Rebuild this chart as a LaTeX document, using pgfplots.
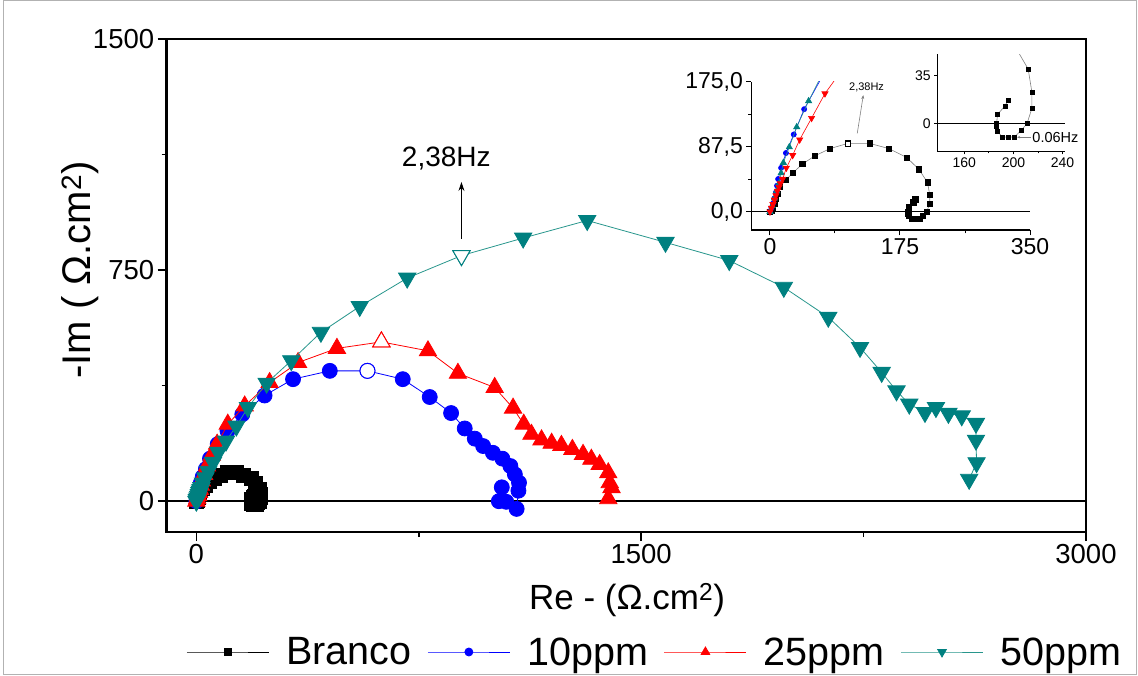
\documentclass[border=0pt]{standalone}
\usepackage{fontspec}
\setmainfont{Liberation Sans}
\usepackage{pgfplots}
\pgfplotsset{compat=1.18}
\usepackage{pgfplotstable}
\usetikzlibrary{arrows.meta}
\definecolor{tealc}{RGB}{0,128,128}
\definecolor{teall}{RGB}{40,150,140}

\pgfplotstableread{
x y
0 0
2 2
4 6
6 11
8 17
10 24
13.5 34
21.5 43
31 52.5
43.5 64
60 75
81 85
105 92
134 92
160 85
184 73
200.5 57
212 39.5
215 23
215 11
211 0
206 -5
201 -9.4
195.5 -9.7
191 -9.4
187 -5.6
186 -2
186.3 0
187 6.7
193 12.8
195.5 16.7
}\branco

\pgfplotstableread{
x y
0 0
2 5
4 11
6 18
8 26
9.5 35
11 44
15 59
21.5 79
32 104
46 138
72 185
105 228
155 282
230 343
326 396
450 423
577 423
696 396
787 338
859 286
905 236
939 203
967 179
1000 157
1032 138
1059 114
1074 87
1088 60
1086 34
1080 -25
1045 -2
1020 0
1030 45
}\ppmten

\pgfplotstableread{
x y
0 0
3 8
6 18
9 28
12 38
15 52
18 66
26 87
36 114
52 149
70 185
106 250
163 309
247 385
343 450
474 496
624 517
781 488
882 415
1006 369
1068 302
1104 250
1130 217
1164 199
1198 188
1231 181
1268 168
1304 152
1332 136
1360 119
1389 92
1394 60
1400 44
1389 8
}\ppmtwentyfive

\pgfplotstableread{
x y
0 0
2 5
4 10
6 16
8 22
10 28
12 33
14 38
17 44
22 59
30.5 76
40 97
56 126
74 159
100 195
135 244
174 304
237 383
320 456
420 548
551 632
711 724
894 797
1102 854
1318 911
1582 840
1797 781
1981 694
2131 597
2238 499
2311 418
2361 358
2404 315
2457 288
2494 304
2536 285
2581 277
2629 253
2629 198
2631 125
2606 71
}\ppmfifty

\begin{document}
\begin{tikzpicture}
\useasboundingbox (0,0) rectangle (1138pt,675pt);
\draw[gray!60, line width=1pt] (3pt,1pt) rectangle (1136pt,674pt);

% ---------------- main axis ----------------
\begin{axis}[
  at={(166.7pt,143pt)}, anchor=south west,
  scale only axis, width=919.3pt, height=493pt,
  xmin=-100, xmax=3000, ymin=-100, ymax=1500,
  xtick={0,1500,3000}, ytick={0,750,1500},
  minor xtick={750,2250}, minor ytick={375,1125},
  tick pos=left, tick align=outside,
  major tick length=9pt, minor tick length=5pt,
  every tick/.style={black, line width=1.5pt},
  axis line style={line width=2.5pt},
  tick label style={font=\fontsize{27.5}{27.5}\selectfont},
  /pgf/number format/assume math mode=true,
  /pgf/number format/1000 sep={},
  scaled ticks=false,
  clip mode=individual,
  legend columns=4,
  legend style={draw=none, fill=none,
    at={(axis description cs:0.531,-0.2434)}, anchor=center,
    font=\fontsize{39.5}{39.5}\selectfont,
    /tikz/every odd column/.append style={column sep=15pt},
    /tikz/every even column/.append style={column sep=14pt}},
  legend image code/.code={\draw[mark repeat=2,mark phase=2,#1] plot coordinates {(0pt,0pt) (41pt,0pt) (82pt,0pt)};},
]
\draw[black, line width=2pt] (axis cs:-100,0) -- (axis cs:3000,0);

\addplot[black, line width=0.8pt, mark=square*, mark size=7pt,
  mark options={solid, fill=black, draw=black},
  legend image post style={mark size=3.5pt}] table[x=x,y=y] {\branco};
\addlegendentry{Branco}
\addplot[blue, line width=0.8pt, mark=*, mark size=7.5pt,
  mark options={solid, fill=blue, draw=blue},
  legend image post style={mark size=4pt}] table[x=x,y=y] {\ppmten};
\addlegendentry{10ppm}
\addplot[red, line width=0.8pt, mark=triangle*, mark size=10pt,
  mark options={solid, fill=red, draw=red},
  legend image post style={mark size=5pt}] table[x=x,y=y] {\ppmtwentyfive};
\addlegendentry{25ppm}
\addplot[teall, line width=0.8pt, mark=triangle*, mark size=10pt,
  mark options={solid, fill=tealc, draw=tealc, rotate=180},
  legend image post style={mark size=5pt}] table[x=x,y=y] {\ppmfifty};
\addlegendentry{50ppm}

% open markers at 2,38 Hz
\addplot[forget plot, only marks, mark=*, mark size=7.5pt, mark options={fill=white, draw=blue, line width=1pt}] coordinates {(577,423)};
\addplot[forget plot, only marks, mark=triangle*, mark size=10pt, mark options={fill=white, draw=red, line width=1pt}] coordinates {(624,517)};
\addplot[forget plot, only marks, mark=triangle*, mark size=10pt, mark options={fill=white, draw=tealc, line width=1pt, rotate=180}] coordinates {(894,797)};

\draw[-{Stealth[length=9pt,width=6pt]}, line width=0.8pt] (axis cs:894,852) -- (axis cs:894,1036);
\node[font=\fontsize{28}{28}\selectfont] at (axis cs:843,1112) {2,38Hz};
\end{axis}

% ---------------- inset 1 ----------------
\begin{axis}[
  at={(751.4pt,444.7pt)}, anchor=south west,
  scale only axis, width=278.6pt, height=148.6pt,
  xmin=-25, xmax=350, ymin=-25, ymax=175,
  axis lines*=left,
  xtick={0,175,350}, minor xtick={87.5,262.5},
  ytick={0,87.5,175}, minor ytick={43.75,131.25},
  yticklabels={{0,0},{87,5},{175,0}},
  tick align=outside,
  major tick length=5pt, minor tick length=3pt,
  every tick/.style={black, line width=1pt},
  axis line style={line width=1.8pt},
  tick label style={font=\fontsize{23}{23}\selectfont},
  /pgf/number format/assume math mode=true,
  clip mode=individual,
]
\draw[black, line width=1.5pt] (axis cs:-25,0) -- (axis cs:350,0);
\addplot[gray, line width=0.6pt, mark=square*, mark size=2.6pt,
  mark options={solid, fill=black, draw=black}] table[x=x,y=y] {\branco};
\addplot[blue, line width=0.6pt, mark=*, mark size=2.6pt,
  mark options={solid, fill=blue, draw=blue}] table[x=x,y=y] {\ppmten};
\addplot[teall, line width=0.6pt, mark=triangle*, mark size=3.6pt,
  mark options={solid, fill=tealc, draw=tealc}] table[x=x,y=y] {\ppmtwentyfive};
\addplot[red, line width=0.6pt, mark=triangle*, mark size=3.6pt,
  mark options={solid, fill=red, draw=red, rotate=180}] table[x=x,y=y] {\ppmfifty};
\addplot[only marks, mark=square*, mark size=2.6pt, mark options={fill=white, draw=black, line width=0.5pt}] coordinates {(105,92)};
\draw[gray, line width=0.6pt, -{Stealth[length=4pt,width=3pt]}] (axis cs:117.5,105.5) -- (axis cs:125.6,157);
\node[font=\fontsize{11}{11}\selectfont] at (axis cs:130,168) {2,38Hz};
\end{axis}

% ---------------- inset 2 ----------------
\begin{axis}[
  at={(937.3pt,523.5pt)}, anchor=south west,
  scale only axis, width=127.7pt, height=97pt,
  xmin=138, xmax=242, ymin=-20, ymax=50,
  axis lines*=left,
  xtick={160,200,240}, minor xtick={180,220},
  ytick={0,35},
  tick align=outside,
  major tick length=3pt, minor tick length=2pt,
  every tick/.style={black, line width=0.8pt},
  axis line style={line width=1.2pt},
  tick label style={font=\fontsize{14}{14}\selectfont},
  /pgf/number format/assume math mode=true,
  clip mode=individual,
]
\draw[black, line width=1pt] (axis cs:138,0) -- (axis cs:242,0);
\addplot[gray, line width=0.6pt, mark=square*, mark size=2pt,
  mark options={solid, fill=black, draw=black}] table[x=x,y=y] {\branco};
\draw[gray, line width=0.6pt, -{Stealth[length=3pt,width=2.5pt]}] (axis cs:214,-9.7) -- (axis cs:203,-9.7);
\node[anchor=west, inner sep=1pt, font=\fontsize{14.5}{14.5}\selectfont] at (axis cs:214.5,-10) {0.06Hz};
\end{axis}

\node[rotate=90, font=\fontsize{40}{40}\selectfont] at (80pt,405pt) {-Im ( Ω.cm\textsuperscript{2})};
\node[font=\fontsize{35}{35}\selectfont] at (627pt,75pt) {Re - (Ω.cm\textsuperscript{2})};
\end{tikzpicture}
\end{document}
